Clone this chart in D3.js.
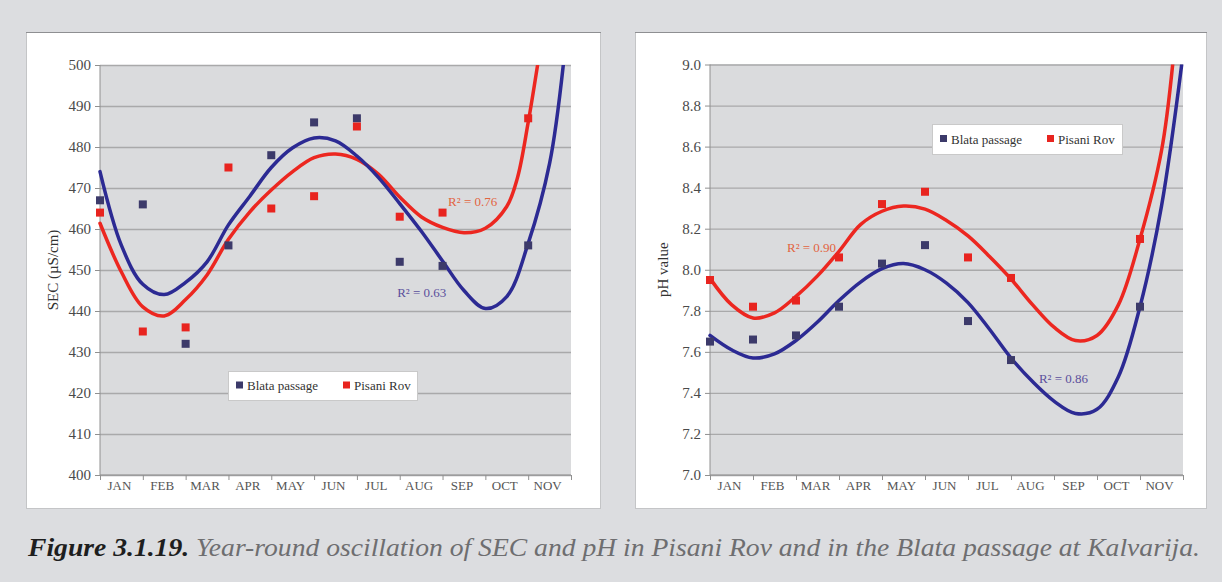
<!DOCTYPE html>
<html>
<head>
<meta charset="utf-8">
<script src="https://cdn.jsdelivr.net/npm/d3@7/dist/d3.min.js"></script>
<style>
  html, body { margin: 0; padding: 0; background: #dcdde0; }
  svg { display: block; }
  text { font-family: "Liberation Serif", "DejaVu Serif", serif; }
</style>
</head>
<body>
<script>
// Month bands along the horizontal axis
const months = ["JAN", "FEB", "MAR", "APR", "MAY", "JUN", "JUL", "AUG", "SEP", "OCT", "NOV"];

// Sampling positions (band boundaries) of the measurements
const secPos = [0, 1, 2, 3, 4, 5, 6, 7, 8, 10];
const phPos = [0, 1, 2, 3, 4, 5, 6, 7, 10];

// Specific electrical conductivity, µS/cm
const secBlata = [467, 466, 432, 456, 478, 486, 487, 452, 451, 456];
const secPisani = [464, 435, 436, 475, 465, 468, 485, 463, 464, 487];

// pH
const phBlata = [7.65, 7.66, 7.68, 7.82, 8.03, 8.12, 7.75, 7.56, 7.82];
const phPisani = [7.95, 7.82, 7.85, 8.06, 8.32, 8.38, 8.06, 7.96, 8.15];

// Polynomial trend lines (position, value)
const secBlataTrendPos = [0, 0.5, 1, 1.5, 2, 2.5, 3, 3.5, 4, 4.5, 5, 5.5, 6, 6.5, 7, 7.5, 8, 8.5, 9, 9.5, 10, 10.5, 10.82];
const secBlataTrend = [474, 456, 446.5, 444, 447, 452, 461, 468, 475, 479.8, 482.2, 481.5, 477.8, 472.6, 466.2, 459.5, 452.2, 445, 440.6, 443.5, 456.5, 476, 500];
const secPisaniTrendPos = [0, 0.5, 1, 1.5, 2, 2.5, 3, 3.5, 4, 4.5, 5, 5.5, 6, 6.5, 7, 7.5, 8, 8.5, 9, 9.5, 9.75, 10, 10.22];
const secPisaniTrend = [461.4, 449.5, 441, 438.8, 442.8, 448.8, 457.5, 464.2, 469.5, 474, 477.4, 478.3, 477, 473.4, 467.8, 463, 460.4, 459.1, 460.2, 465.5, 472.5, 486, 500];
const phBlataTrendPos = [0, 0.5, 1, 1.5, 2, 2.5, 3, 3.5, 4, 4.5, 5, 5.5, 6, 6.5, 7, 7.5, 8, 8.5, 9, 9.5, 10, 10.5, 10.97];
const phBlataTrend = [7.68, 7.61, 7.57, 7.59, 7.655, 7.745, 7.85, 7.94, 8.005, 8.03, 8.0, 7.935, 7.84, 7.71, 7.57, 7.455, 7.36, 7.30, 7.32, 7.48, 7.82, 8.31, 9.0];
const phPisaniTrendPos = [0, 0.5, 1, 1.5, 2, 2.5, 3, 3.5, 4, 4.5, 5, 5.5, 6, 6.5, 7, 7.5, 8, 8.5, 9, 9.5, 10, 10.5, 10.76];
const phPisaniTrend = [7.958, 7.83, 7.765, 7.79, 7.87, 7.97, 8.09, 8.22, 8.285, 8.31, 8.295, 8.24, 8.165, 8.065, 7.955, 7.83, 7.72, 7.655, 7.68, 7.83, 8.15, 8.58, 9.0];

// Axis ticks
const secTicks = [400, 410, 420, 430, 440, 450, 460, 470, 480, 490, 500];
const phTicks = [7.0, 7.2, 7.4, 7.6, 7.8, 8.0, 8.2, 8.4, 8.6, 8.8, 9.0];

// Legend names and fit labels
const seriesNames = ["Blata passage", "Pisani Rov"];
const secR2 = ["R² = 0.63", "R² = 0.76"];
const phR2 = ["R² = 0.86", "R² = 0.90"];

const caption = ["Figure 3.1.19.", " Year-round oscillation of SEC and pH in Pisani Rov and in the Blata passage at Kalvarija."];

const COLORS = {
  blataLine: "#2c2a93",
  pisaniLine: "#ec2720",
  blataMark: "#3c3a6a",
  pisaniMark: "#e8241f",
  blataText: "#5b4f9c",
  pisaniText: "#e2643f",
  plotBg: "#dadbdd",
  grid: "#a9a9aa",
  axis: "#909090",
  label: "#4a4a4a"
};

const W = 1222, H = 582;
const svg = d3.select("body").append("svg").attr("width", W).attr("height", H);
svg.append("rect").attr("width", W).attr("height", H).attr("fill", "#dcdde0");

function drawPanel(cfg) {
  const g = svg.append("g");

  // white card
  g.append("rect")
    .attr("x", cfg.card[0] + 0.5).attr("y", cfg.card[1] + 0.5)
    .attr("width", cfg.card[2]).attr("height", cfg.card[3])
    .attr("fill", "#ffffff").attr("stroke", "#c4c5c7");
  g.append("line")
    .attr("x1", cfg.card[0]).attr("x2", cfg.card[0] + cfg.card[2] + 1)
    .attr("y1", cfg.card[1] + 0.5).attr("y2", cfg.card[1] + 0.5)
    .attr("stroke", "#8e8f92");

  const [px0, px1, py0, py1] = cfg.plot; // left, right, top, bottom
  const x = d3.scaleLinear().domain([0, months.length]).range([px0, px1]);
  const y = d3.scaleLinear().domain(cfg.yDomain).range([py1, py0]);

  g.append("rect").attr("x", px0).attr("y", py0)
    .attr("width", px1 - px0).attr("height", py1 - py0)
    .attr("fill", COLORS.plotBg);

  // horizontal gridlines
  const grid = g.append("g").attr("transform", `translate(${px0},0)`)
    .call(d3.axisLeft(y).tickValues(cfg.ticks).tickSize(-(px1 - px0)).tickFormat(""));
  grid.select(".domain").remove();
  grid.selectAll(".tick line").attr("stroke", COLORS.grid).attr("stroke-width", 1.3);

  // y axis
  const ya = g.append("g").attr("transform", `translate(${px0},0)`)
    .call(d3.axisLeft(y).tickValues(cfg.ticks).tickSize(5).tickPadding(4).tickFormat(cfg.fmt));
  ya.select(".domain").attr("stroke", COLORS.axis).attr("d", `M0,${py0}V${py1}`);
  ya.selectAll(".tick line").attr("stroke", COLORS.axis);
  ya.selectAll(".tick text").attr("fill", COLORS.label)
    .style("font-size", "15px").style("font-family", "Liberation Serif, serif");

  // x axis: ticks on band boundaries, labels in band centres
  const xa = g.append("g").attr("transform", `translate(0,${py1})`)
    .call(d3.axisBottom(x).tickValues(d3.range(0, months.length + 1)).tickSize(5).tickFormat(""));
  xa.select(".domain").attr("stroke", COLORS.axis).attr("d", `M${px0},0H${px1}`);
  xa.selectAll(".tick line").attr("stroke", COLORS.axis);
  g.append("g").selectAll("text").data(months).join("text")
    .attr("x", (d, i) => x(i + 0.5) - 2)
    .attr("y", py1 + 15)
    .attr("text-anchor", "middle")
    .attr("fill", "#555")
    .style("font-size", "13px")
    .text(d => d);

  // axis title
  g.append("text")
    .attr("transform", `translate(${cfg.titleX},${(py0 + py1) / 2}) rotate(-90)`)
    .attr("text-anchor", "middle")
    .attr("dy", "0.35em")
    .attr("fill", "#333")
    .style("font-size", "15px")
    .text(cfg.title);

  // trend lines, clipped to the plot area
  const clipId = "clip" + cfg.id;
  g.append("clipPath").attr("id", clipId).append("rect")
    .attr("x", px0 - 2).attr("y", py0).attr("width", px1 - px0 + 4).attr("height", py1 - py0);
  const line = d3.line().x(d => x(d[0])).y(d => y(d[1])).curve(d3.curveCatmullRom.alpha(0.5));
  cfg.trends.forEach(t => {
    g.append("path")
      .attr("clip-path", `url(#${clipId})`)
      .attr("d", line(d3.zip(t.pos, t.val)))
      .attr("fill", "none")
      .attr("stroke", t.color)
      .attr("stroke-width", 3.5)
      .attr("stroke-linejoin", "round")
      .attr("stroke-linecap", "round");
  });

  // measured values
  const s = 8;
  cfg.points.forEach(p => {
    g.append("g").selectAll("rect").data(d3.zip(p.pos, p.val)).join("rect")
      .attr("x", d => x(d[0]) - s / 2)
      .attr("y", d => y(d[1]) - s / 2)
      .attr("width", s).attr("height", s)
      .attr("fill", p.color);
  });

  // R² labels
  cfg.labels.forEach(l => {
    g.append("text")
      .attr("x", x(l.at[0])).attr("y", y(l.at[1]))
      .attr("dy", "0.35em")
      .attr("fill", l.color)
      .style("font-size", "13px")
      .text(l.text);
  });

  // legend
  const [lx, ly, lw, lh] = cfg.legend;
  const lg = g.append("g").attr("transform", `translate(${lx},${ly})`);
  lg.append("rect").attr("x", 0.5).attr("y", 0.5).attr("width", lw).attr("height", lh)
    .attr("fill", "#ffffff").attr("stroke", "#c9c9c9");
  const items = [
    { name: seriesNames[0], color: COLORS.blataMark, dx: 8 },
    { name: seriesNames[1], color: COLORS.pisaniMark, dx: 115 }
  ];
  items.forEach(it => {
    lg.append("rect").attr("x", it.dx).attr("y", lh / 2 - 4).attr("width", 7).attr("height", 7)
      .attr("fill", it.color);
    lg.append("text").attr("x", it.dx + 11).attr("y", lh / 2)
      .attr("dy", "0.35em").attr("fill", "#333")
      .style("font-size", "13px").text(it.name);
  });
}

drawPanel({
  id: "sec",
  card: [26, 32, 574, 476],
  plot: [100, 571, 65, 475],
  yDomain: [400, 500],
  ticks: secTicks,
  fmt: d3.format("d"),
  title: "SEC (µS/cm)",
  titleX: 53,
  trends: [
    { pos: secPisaniTrendPos, val: secPisaniTrend, color: COLORS.pisaniLine },
    { pos: secBlataTrendPos, val: secBlataTrend, color: COLORS.blataLine }
  ],
  points: [
    { pos: secPos, val: secBlata, color: COLORS.blataMark },
    { pos: secPos, val: secPisani, color: COLORS.pisaniMark }
  ],
  labels: [
    { text: secR2[1], at: [8.13, 466.7], color: COLORS.pisaniText },
    { text: secR2[0], at: [6.94, 444.5], color: COLORS.blataText }
  ],
  legend: [228, 371, 189, 29]
});

drawPanel({
  id: "ph",
  card: [635, 32, 571, 476],
  plot: [710, 1183, 64.5, 475],
  yDomain: [7.0, 9.0],
  ticks: phTicks,
  fmt: d3.format(".1f"),
  title: "pH value",
  titleX: 663,
  trends: [
    { pos: phPisaniTrendPos, val: phPisaniTrend, color: COLORS.pisaniLine },
    { pos: phBlataTrendPos, val: phBlataTrend, color: COLORS.blataLine }
  ],
  points: [
    { pos: phPos, val: phBlata, color: COLORS.blataMark },
    { pos: phPos, val: phPisani, color: COLORS.pisaniMark }
  ],
  labels: [
    { text: phR2[1], at: [1.79, 8.11], color: COLORS.pisaniText },
    { text: phR2[0], at: [7.65, 7.47], color: COLORS.blataText }
  ],
  legend: [932, 124, 190, 30]
});

// figure caption, stretched across the figure width
const cap = svg.append("text")
  .attr("x", 28).attr("y", 556)
  .attr("textLength", 1172)
  .attr("lengthAdjust", "spacingAndGlyphs")
  .style("font-size", "25px")
  .style("font-style", "italic");
cap.append("tspan").attr("font-weight", "bold").attr("fill", "#1e1e1e").text(caption[0]);
cap.append("tspan").attr("fill", "#6e6e70").text(caption[1]);
</script>
</body>
</html>
